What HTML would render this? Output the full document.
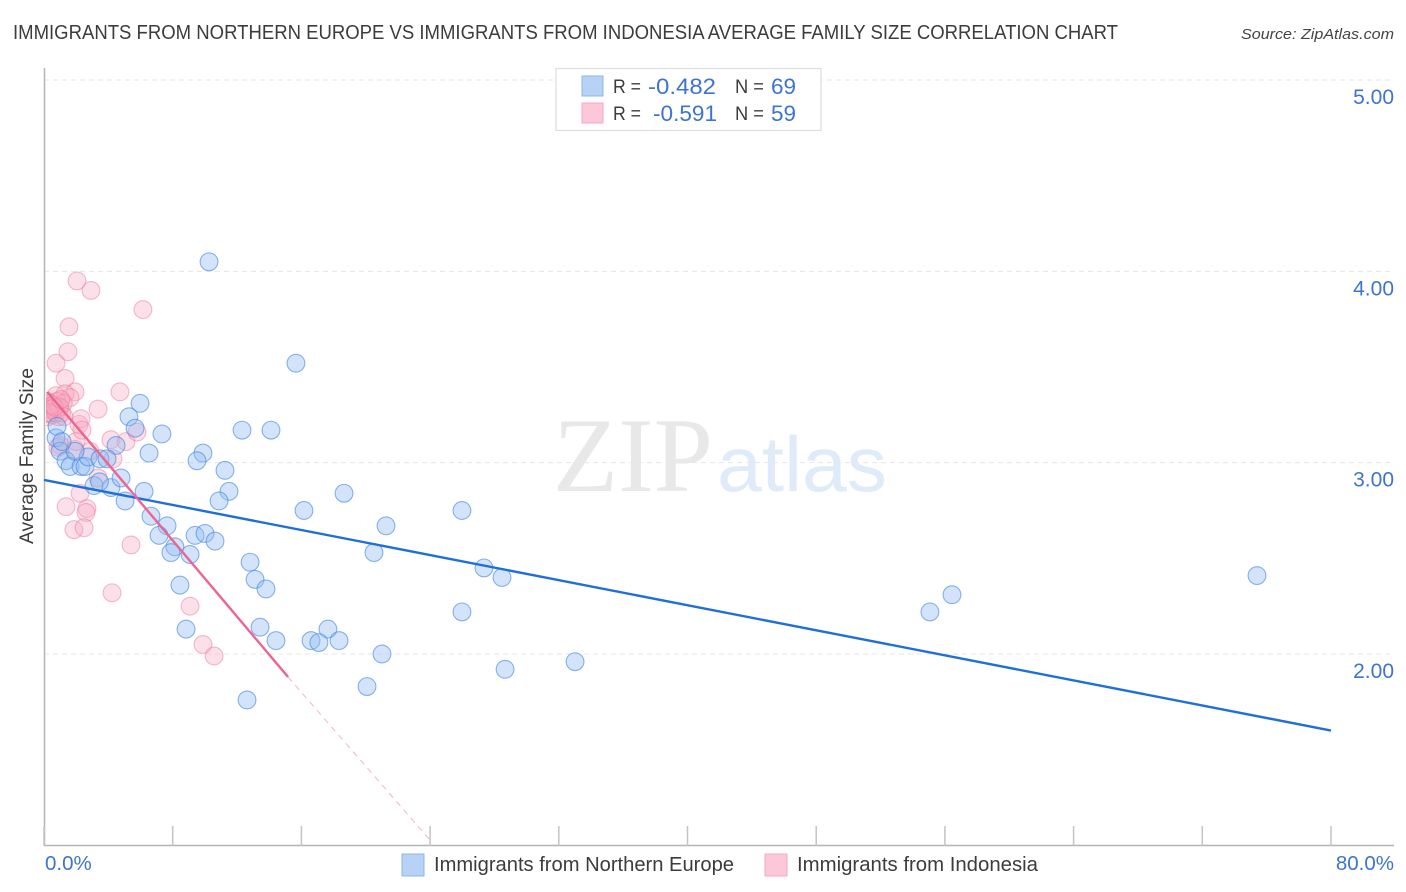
<!DOCTYPE html>
<html lang="en">
<head>
<meta charset="utf-8">
<title>Immigrants from Northern Europe vs Immigrants from Indonesia Average Family Size Correlation Chart</title>
<style>
html,body{margin:0;padding:0;background:#fff;width:1406px;height:892px;overflow:hidden}
svg{display:block;font-family:"Liberation Sans",sans-serif}
</style>
</head>
<body>
<svg id="chart" width="1406" height="892" viewBox="0 0 1406 892" xmlns="http://www.w3.org/2000/svg">
<defs><clipPath id="plot-clip"><rect x="46" y="60" width="1360" height="786"/></clipPath></defs>
<rect x="0" y="0" width="1406" height="892" fill="#fff"/>
<text x="13" y="39" font-size="20" fill="#3c3c3c" textLength="1105" lengthAdjust="spacingAndGlyphs">IMMIGRANTS FROM NORTHERN EUROPE VS IMMIGRANTS FROM INDONESIA AVERAGE FAMILY SIZE CORRELATION CHART</text>
<text x="1241" y="39" font-size="15" font-style="italic" fill="#444" textLength="153" lengthAdjust="spacingAndGlyphs">Source: ZipAtlas.com</text>
<g id="grid"></g>
<g>
<text x="553" y="491" font-family="'Liberation Serif',serif" font-size="106" fill="#e8e8e8" textLength="160" lengthAdjust="spacingAndGlyphs">ZIP</text>
<text x="717" y="491" font-size="78" fill="#e0ebfa" textLength="170" lengthAdjust="spacingAndGlyphs">atlas</text>
</g>
<g id="axes"></g>
<g id="pink-points" clip-path="url(#plot-clip)"></g>
<g id="blue-points" clip-path="url(#plot-clip)"></g>
<g id="trends"></g>
<text transform="translate(33,456) rotate(-90)" font-size="19" fill="#3c3c3c" text-anchor="middle" textLength="176" lengthAdjust="spacingAndGlyphs">Average Family Size</text>
<g id="y-labels"></g>
<g id="x-labels"></g>
<g>
<rect x="556" y="68.500" width="265" height="62" fill="#fff" stroke="#ddd" stroke-width="1.200"/>
<rect x="582" y="76" width="21" height="20" fill="#b8d2f6" stroke="#8db4ea" stroke-width="1"/>
<rect x="582" y="103" width="21" height="20" fill="#fcc8d9" stroke="#f4a9c0" stroke-width="1"/>
<text x="613" y="93" fill="#3c3c3c" font-size="19" textLength="28" lengthAdjust="spacingAndGlyphs">R =</text>
<text x="648" y="94" fill="#3e74d0" font-size="22" textLength="68" lengthAdjust="spacingAndGlyphs">-0.482</text>
<text x="735" y="93" fill="#3c3c3c" font-size="19" textLength="29" lengthAdjust="spacingAndGlyphs">N =</text>
<text x="771" y="94" fill="#3e74d0" font-size="22" textLength="25" lengthAdjust="spacingAndGlyphs">69</text>
<text x="613" y="120" fill="#3c3c3c" font-size="19" textLength="28" lengthAdjust="spacingAndGlyphs">R =</text>
<text x="653" y="121" fill="#3e74d0" font-size="22" textLength="64" lengthAdjust="spacingAndGlyphs">-0.591</text>
<text x="735" y="120" fill="#3c3c3c" font-size="19" textLength="29" lengthAdjust="spacingAndGlyphs">N =</text>
<text x="771" y="121" fill="#3e74d0" font-size="22" textLength="25" lengthAdjust="spacingAndGlyphs">59</text>
</g>
<g>
<rect x="402" y="854" width="22" height="22" fill="#b8d2f6" stroke="#8db4ea" stroke-width="1"/>
<text x="434" y="871" font-size="20" fill="#3c3c3c" textLength="300" lengthAdjust="spacingAndGlyphs">Immigrants from Northern Europe</text>
<rect x="765" y="854" width="22" height="22" fill="#fcc8d9" stroke="#f4a9c0" stroke-width="1"/>
<text x="797" y="871" font-size="20" fill="#3c3c3c" textLength="241" lengthAdjust="spacingAndGlyphs">Immigrants from Indonesia</text>
</g>
</svg>
<script>
const yTicks = [2, 3, 4, 5];
const yTickLabels = ["2.00", "3.00", "4.00", "5.00"];
const xTicks = [0, 8, 16, 24, 32, 40, 48, 56, 64, 72, 80];
const xTickLabels = ["0.0%", "80.0%"];
const blueX = [10.26,15.66,5.97,5.28,5.66,7.33,12.31,14.11,9.88,9.51,6.53,11.25,4.48,11.50,10.88,6.22,5.04,6.65,16.16,18.65,25.98,21.26,7.65,7.15,9.39,10.01,10.63,8.14,7.89,9.08,20.51,12.81,27.35,13.12,28.47,8.45,13.80,25.98,8.83,13.43,14.42,17.65,16.60,17.09,18.34,21.01,28.66,33.01,20.08,12.62,75.40,56.44,55.07,0.75,0.81,1.00,1.37,1.62,2.30,2.55,2.74,3.48,3.92,3.11,4.16,4.79,3.45,1.93,1.12];
const blueY = [4.05,3.52,3.31,3.24,3.18,3.15,3.17,3.17,3.05,3.01,3.05,2.96,3.09,2.85,2.80,2.85,2.80,2.72,2.75,2.84,2.75,2.67,2.67,2.62,2.62,2.63,2.59,2.56,2.53,2.52,2.53,2.48,2.45,2.39,2.40,2.36,2.34,2.22,2.13,2.14,2.07,2.13,2.07,2.06,2.07,2.00,1.92,1.96,1.83,1.76,2.41,2.31,2.22,3.13,3.19,3.06,3.01,2.98,2.98,2.98,3.03,3.02,3.02,2.88,2.87,2.92,2.90,3.06,3.11];
const pinkX = [2.05,2.92,6.15,1.55,1.49,0.75,1.31,4.72,1.93,1.31,0.75,3.36,2.18,2.30,1.62,1.00,1.93,4.16,5.10,5.78,4.29,3.36,2.24,1.37,2.67,2.61,1.86,2.49,5.41,4.23,9.08,9.88,10.57,0.87,2.00,2.86,2.36,0.15,0.25,0.35,0.45,0.55,0.60,0.70,0.80,0.90,1.00,1.10,1.20,0.20,0.40,0.50,0.75,0.95,1.25,0.30,0.50,0.65,1.05];
const pinkY = [3.95,3.90,3.80,3.71,3.58,3.52,3.44,3.37,3.37,3.36,3.35,3.28,3.20,3.23,3.34,3.09,3.07,3.12,3.11,3.16,3.02,2.92,2.84,2.77,2.76,2.74,2.65,2.66,2.57,2.32,2.25,2.05,1.99,3.08,3.11,3.06,3.17,3.28,3.24,3.31,3.26,3.30,3.30,3.27,3.32,3.24,3.29,3.26,3.31,3.32,3.28,3.25,3.26,3.29,3.24,3.26,3.30,3.29,3.33];
const blueTrendX = [0, 80];
const blueTrendY = [2.91, 1.60];
const pinkTrendX = [0.2, 15.17];
const pinkTrendY = [3.37, 1.88];
const pinkDashX = [15.17, 23.97];
const pinkDashY = [1.88, 1.03];

const NS = "http://www.w3.org/2000/svg";
const xScale = function (v) { return 44 + v * 16.0875; };
const yScale = function (v) { return 654 - (v - 2) * 191.33; };
const byId = function (id) { return document.getElementById(id); };
const make = function (tag, parent) {
  const el = document.createElementNS(NS, tag);
  parent.appendChild(el);
  return el;
};
const setAll = function (el, props) {
  Object.keys(props).forEach(function (k) { el.setAttribute(k, props[k]); });
};

yTicks.forEach(function (t, i) {
  const line = make("line", byId("grid"));
  
  
  setAll(line, { x1: 44, x2: 1394, y1: yScale(t), y2: yScale(t), stroke: "#e6e6e6", "stroke-width": 1, "stroke-dasharray": "5 4" });
  const label = make("text", byId("y-labels"));
  
  
  setAll(label, { x: 1394, y: yScale(t) + 24, "font-size": 21, fill: "#3e74d0", "text-anchor": "end" });
  label.textContent = yTickLabels[i];
});

const axisLeft = make("line", byId("axes"));


setAll(axisLeft, { x1: 44.5, x2: 44.5, y1: 68, y2: 846, stroke: "#b4b4b4", "stroke-width": 1.5 });
const axisBottom = make("line", byId("axes"));


setAll(axisBottom, { x1: 44, x2: 1394, y1: 845.5, y2: 845.5, stroke: "#b4b4b4", "stroke-width": 1.5 });
xTicks.forEach(function (t) {
  const tick = make("line", byId("axes"));
  
  
  setAll(tick, { x1: xScale(t), x2: xScale(t), y1: 826, y2: 846, stroke: "#c4c4c4", "stroke-width": 1.5 });
});

const xLabelLeft = make("text", byId("x-labels"));


setAll(xLabelLeft, { x: 45, y: 870, "font-size": 20.5, fill: "#3e74d0" });
xLabelLeft.textContent = xTickLabels[0];
const xLabelRight = make("text", byId("x-labels"));


setAll(xLabelRight, { x: 1394, y: 870, "font-size": 20.5, fill: "#3e74d0", "text-anchor": "end" });
xLabelRight.textContent = xTickLabels[1];

pinkX.forEach(function (v, i) {
  const c = make("circle", byId("pink-points"));
  
  
  setAll(c, { cx: xScale(v), cy: yScale(pinkY[i]), r: 8.9, fill: "#f8a8c2", "fill-opacity": 0.36, stroke: "#f0779c", "stroke-opacity": 0.5, "stroke-width": 1.1 });
});
blueX.forEach(function (v, i) {
  const c = make("circle", byId("blue-points"));
  
  
  setAll(c, { cx: xScale(v), cy: yScale(blueY[i]), r: 8.9, fill: "#92bcf2", "fill-opacity": 0.4, stroke: "#3f83de", "stroke-opacity": 0.6, "stroke-width": 1.1 });
});

const pinkDash = make("line", byId("trends"));


setAll(pinkDash, { x1: xScale(pinkDashX[0]), y1: yScale(pinkDashY[0]), x2: xScale(pinkDashX[1]), y2: yScale(pinkDashY[1]), stroke: "#f3b4c8", "stroke-width": 1, "stroke-dasharray": "6 5" });
const blueTrend = make("line", byId("trends"));


setAll(blueTrend, { x1: xScale(blueTrendX[0]), y1: yScale(blueTrendY[0]), x2: xScale(blueTrendX[1]), y2: yScale(blueTrendY[1]), stroke: "#1f6fdb", "stroke-width": 2.4 });
const pinkTrend = make("line", byId("trends"));


setAll(pinkTrend, { x1: xScale(pinkTrendX[0]), y1: yScale(pinkTrendY[0]), x2: xScale(pinkTrendX[1]), y2: yScale(pinkTrendY[1]), stroke: "#ec6492", "stroke-width": 2.4 });
</script>
</body>
</html>
